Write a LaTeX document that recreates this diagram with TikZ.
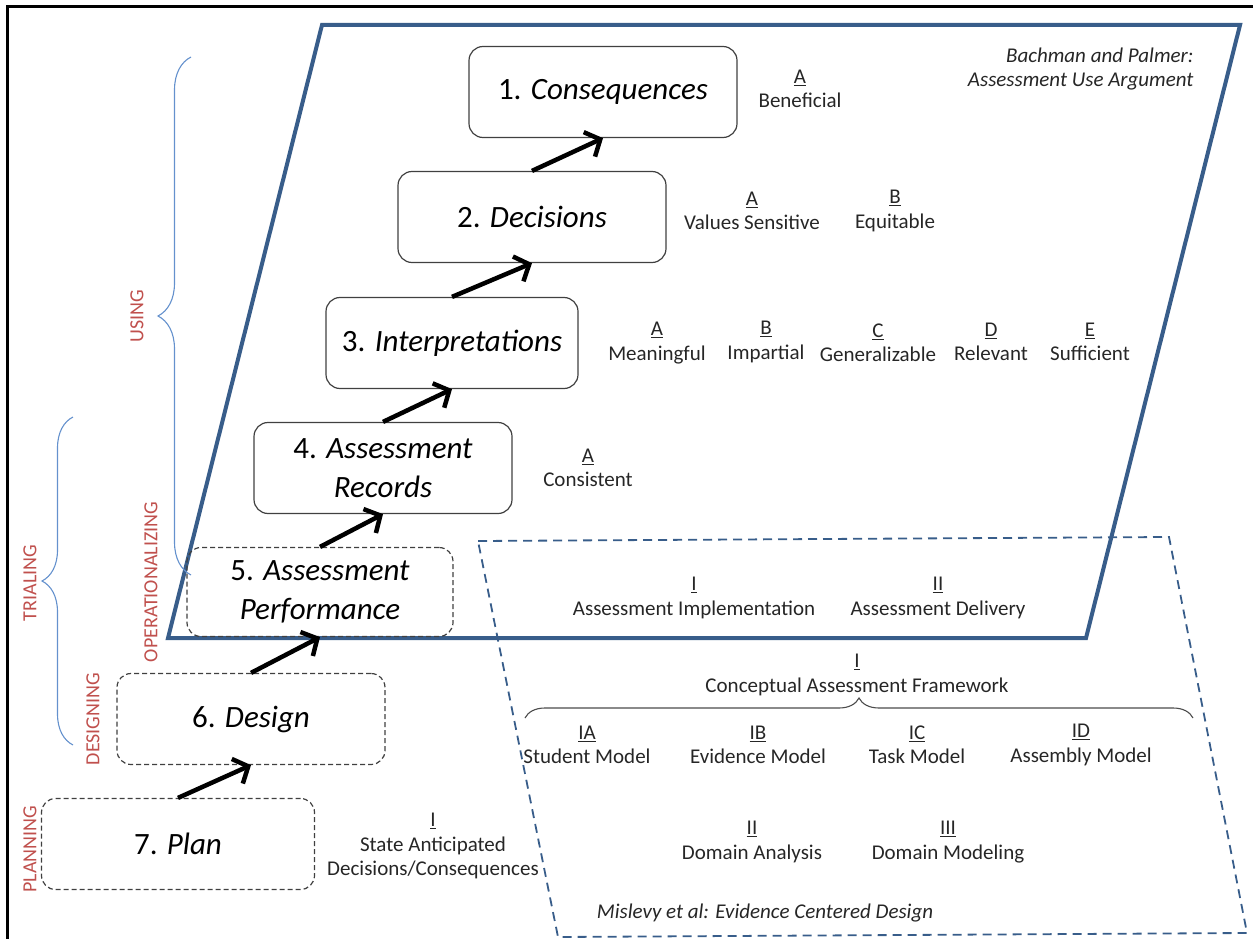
\documentclass[tikz,border=0pt]{standalone}
\usepackage{fontspec}
\setmainfont{Carlito}
\usepackage{tikz}
\usetikzlibrary{arrows.meta,positioning,decorations.pathreplacing}
\definecolor{frameblue}{RGB}{56,93,138}
\definecolor{braceblue}{RGB}{100,145,205}
\definecolor{phasered}{RGB}{192,80,77}
\tikzstyle{stage} = [rectangle, draw=black!75, line width=1.2pt, rounded corners=14pt, minimum width=268pt, minimum height=91pt, align=center, font=\fontsize{31}{39}\selectfont]
\tikzstyle{stagedash} = [stage, dash pattern=on 5pt off 3pt]
\tikzstyle{line} = [draw, line width=4.5pt, -{Straight Barb[length=12pt,width=27pt]}]
\tikzstyle{crit} = [align=center, text=black!85, font=\fontsize{21}{24.5}\selectfont]
\tikzstyle{phase} = [rotate=90, text=phasered, font=\fontsize{20}{24}\selectfont]
\tikzstyle{bracket} = [draw=braceblue, line width=1.1pt, decorate]
\newcommand{\critlabel}[2]{\underline{#1}\\#2}

\begin{document}
\begin{tikzpicture}[x=1pt, y=-1pt]
				\useasboundingbox (0,0) rectangle (1253,939);
				\draw[line width=3pt] (7,939) -- (7,7) -- (1253,7);
				% Frames
				\draw[frameblue, line width=4pt, line join=miter] (322,25) -- (1240,25) -- (1086,638) -- (168,638) -- cycle;
				\draw[frameblue, line width=1.8pt, dash pattern=on 9pt off 6pt] (478,541) -- (1169,537) -- (1247,933) -- (558,937) -- cycle;
				% Place nodes
				\node [stage] (cons) at (603,92) {1. \textit{Consequences}};
				\node [stage] (dec) at (532,217) {2. \textit{Decisions}};
				\node [stage, minimum width=252pt] (interp) at (452,343) {3. \textit{Interpretations}};
				\node [stage, minimum width=258pt] (rec) at (383,468) {4. \textit{Assessment}\\\textit{Records}};
				\node [stagedash, minimum width=266pt, minimum height=89pt] (perf) at (320,592) {5. \textit{Assessment}\\\textit{Performance}};
				\node [stagedash] (design) at (251,719) {6. \textit{Design}};
				\node [stagedash, minimum width=273pt] (plan) at (178,844) {7. \textit{Plan}};
				% Draw edges
				\path [line] (plan.north) -- (design.south);
				\path [line] (design.north) -- (perf.south);
				\path [line] (perf.north) -- (rec.south);
				\path [line] (rec.north) -- (interp.south);
				\path [line] (interp.north) -- (dec.south);
				\path [line] (dec.north) -- (cons.south);
				% Criteria
				\node [crit] (consA) at (800,89) {\critlabel{A}{Beneficial}};
				\node [crit] (decA) at (752,211) {\critlabel{A}{Values Sensitive}};
				\node [crit] (decB) at (895,211) {\critlabel{B}{Equitable}};
				\node [crit] (intA) at (657,343) {\critlabel{A}{Meaningful}};
				\node [crit] (intB) at (766,342) {\critlabel{B}{Impartial}};
				\node [crit] (intC) at (878,343) {\critlabel{C}{Generalizable}};
				\node [crit] (intD) at (991,342) {\critlabel{D}{Relevant}};
				\node [crit] (intE) at (1090,342) {\critlabel{E}{Sufficient}};
				\node [crit] (recA) at (588,468) {\critlabel{A}{Consistent}};
				\node [crit] (perfI) at (694,598) {\critlabel{I}{Assessment Implementation}};
				\node [crit] (perfII) at (938,598) {\critlabel{II}{Assessment Delivery}};
				\node [crit] (caf) at (857,675) {\critlabel{I}{Conceptual Assessment Framework}};
				\node [crit] (cafA) at (587,745) {\critlabel{IA}{Student Model}};
				\node [crit] (cafB) at (758,745) {\critlabel{IB}{Evidence Model}};
				\node [crit] (cafC) at (917,745) {\critlabel{IC}{Task Model}};
				\node [crit] (cafD) at (1081,745) {\critlabel{ID}{Assembly Model}};
				\node [crit] (dom) at (752,842) {\critlabel{II}{Domain Analysis}};
				\node [crit] (model) at (948,842) {\critlabel{III}{Domain Modeling}};
				\node [crit] (planI) at (433,846) {\underline{I}\\State Anticipated\\Decisions/Consequences};
				\node [crit, align=right, anchor=east, font=\fontsize{21}{24.5}\selectfont\itshape] (aua) at (1197,69) {Bachman and Palmer:\\Assessment Use Argument};
				\node [crit, font=\fontsize{21}{24.5}\selectfont\itshape] (ecd) at (765,913) {Mislevy et al: Evidence Centered Design};
				\draw [bracket, draw=black!70, decoration={brace, amplitude=20pt}] (525,718) -- (1193,718);
				% Phases
				\draw [bracket, decoration={brace, amplitude=33pt}] (191,575) -- (191,57);
				\draw [bracket, decoration={brace, amplitude=31pt}] (73,745) -- (73,417);
				\node [phase] (using) at (137,316) {USING};
				\node [phase] (trial) at (30,583) {TRIALING};
				\node [phase] (oper) at (151,582) {OPERATIONALIZING};
				\node [phase] (desg) at (93,719) {DESIGNING};
				\node [phase] (plng) at (30,849) {PLANNING};
			\end{tikzpicture}
\end{document}
